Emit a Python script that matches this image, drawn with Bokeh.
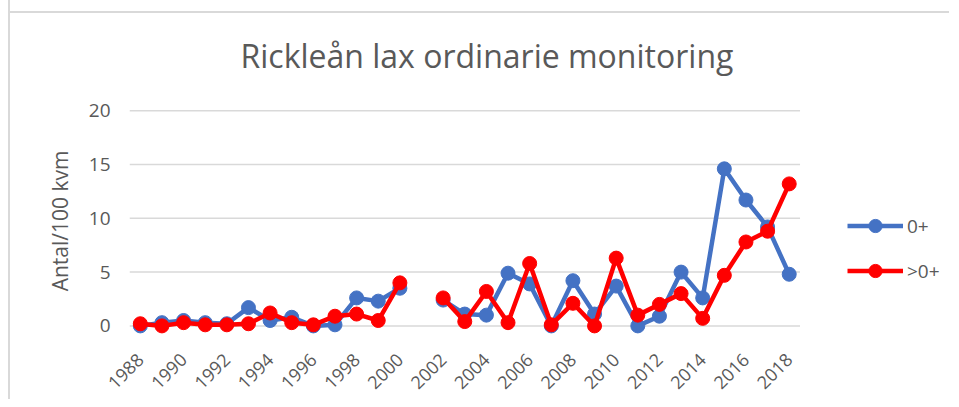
import math
from bokeh.plotting import figure
from bokeh.models import Range1d, Legend, LegendItem, FixedTicker, ColumnDataSource
from bokeh.embed import file_html
from bokeh.resources import INLINE

years = list(range(1988, 2019))
nan = float("nan")
young = [0.0, 0.3, 0.5, 0.3, 0.2, 1.7, 0.5, 0.8, 0.0, 0.1, 2.6, 2.3, 3.5, nan,
         2.4, 1.1, 1.0, 4.9, 3.9, 0.0, 4.2, 1.1, 3.7, 0.0, 0.9, 5.0, 2.6,
         14.6, 11.7, 9.2, 4.8]
older = [0.2, 0.0, 0.3, 0.1, 0.1, 0.2, 1.2, 0.3, 0.1, 0.9, 1.1, 0.5, 4.0, nan,
         2.6, 0.4, 3.2, 0.3, 5.8, 0.1, 2.1, 0.0, 6.3, 1.0, 2.0, 3.0, 0.7,
         4.7, 7.8, 8.8, 13.2]
series_names = ["0+", ">0+"]
title_text = "Rickleån lax ordinarie monitoring"
y_label = "Antal/100 kvm"
y_ticks = [0, 5, 10, 15, 20]
x_ticks = list(range(1988, 2019, 2))

BLUE = "#4472C4"
RED = "#FF0000"
TXT = "#595959"
GRID = "#D9D9D9"
FONT = "Open Sans"

# plot area spans the years; the frame extends further right to host the legend
x_lo, x_hi = years[0] - 0.5, years[-1] + 0.5
px_per_year = 21.63
frame_w = 811
x_end = x_lo + frame_w / px_per_year

src = ColumnDataSource(dict(x=years, a=young, b=older))

p = figure(width=941, height=399, output_backend="svg", toolbar_location=None,
           x_range=Range1d(x_lo, x_end), y_range=Range1d(-0.8, 20.3),
           min_border_left=119, min_border_right=11, min_border_top=107,
           min_border_bottom=65)
p.styles = {"border-left": "2px solid #D9D9D9", "margin-left": "8px",
            "background": "linear-gradient(#D9D9D9, #D9D9D9) 0 11px / 100% 2px no-repeat"}
p.outline_line_color = None
p.background_fill_color = None
p.border_fill_color = None

p.title.text = title_text
p.title.align = "left"
p.title.text_font = FONT
p.title.text_font_size = "32px"
p.title.text_font_style = "normal"
p.title.text_color = TXT
p.title.offset = 111
p.title.standoff = 62

p.xgrid.grid_line_color = None
p.ygrid.grid_line_color = None
# horizontal gridlines limited to the plot area (years span)
p.segment(x0=[x_lo] * len(y_ticks), x1=[x_hi] * len(y_ticks), y0=y_ticks, y1=y_ticks,
          line_color=GRID, line_width=1.5)

p.yaxis.ticker = FixedTicker(ticks=y_ticks)
p.xaxis.ticker = FixedTicker(ticks=x_ticks)
for ax in (p.xaxis, p.yaxis):
    ax.axis_line_color = None
    ax.major_tick_line_color = None
    ax.minor_tick_line_color = None
    ax.major_tick_out = 0
    ax.major_tick_in = 0
    ax.major_label_text_color = TXT
    ax.major_label_text_font = FONT
p.xaxis.major_label_text_font_size = "18px"
p.yaxis.major_label_text_font_size = "19px"
p.xaxis.major_label_orientation = math.pi / 4
p.xaxis.major_label_standoff = 22
p.yaxis.major_label_standoff = 19
p.yaxis.axis_label = y_label
p.yaxis.axis_label_text_font = FONT
p.yaxis.axis_label_text_font_size = "21px"
p.yaxis.axis_label_text_font_style = "normal"
p.yaxis.axis_label_text_color = TXT
p.yaxis.axis_label_standoff = 12

la = p.line("x", "a", source=src, line_color=BLUE, line_width=4.5)
sa = p.scatter("x", "a", source=src, size=14, fill_color=BLUE, line_color=BLUE)
lb = p.line("x", "b", source=src, line_color=RED, line_width=4.5)
sb = p.scatter("x", "b", source=src, size=14, fill_color=RED, line_color=RED)

legend = Legend(items=[LegendItem(label=series_names[0], renderers=[la, sa]),
                       LegendItem(label=series_names[1], renderers=[lb, sb])],
                location=(718, 47), orientation="vertical")
legend.background_fill_alpha = 0
legend.border_line_color = None
legend.padding = 0
legend.margin = 0
legend.spacing = 12
legend.glyph_width = 56
legend.glyph_height = 33
legend.label_height = 33
legend.label_standoff = 4
legend.label_text_font = FONT
legend.label_text_font_size = "19px"
legend.label_text_color = TXT
p.add_layout(legend, "center")

open("out.html", "w").write(file_html(p, INLINE))
